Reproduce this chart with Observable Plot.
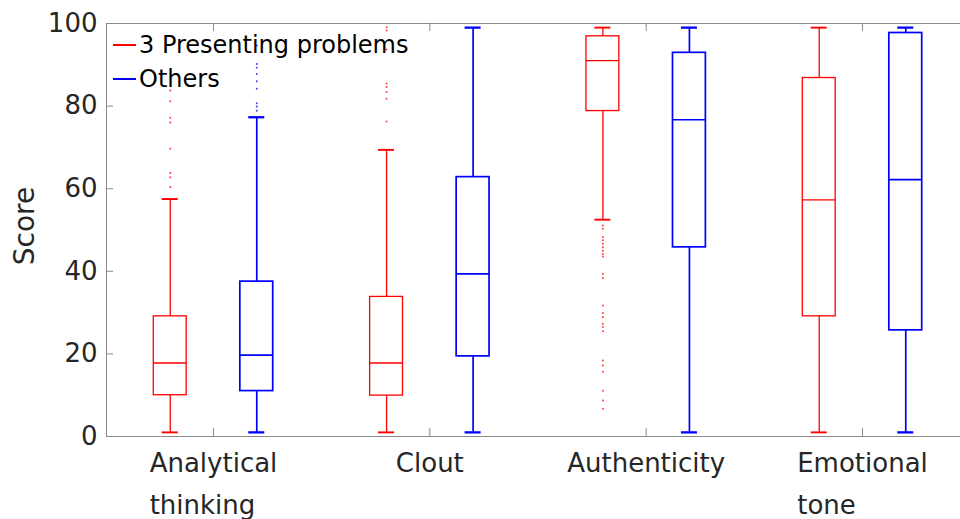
<!DOCTYPE html>
<html>
<head>
<meta charset="utf-8">
<script src="https://cdn.jsdelivr.net/npm/d3@7"></script>
<script src="https://cdn.jsdelivr.net/npm/@observablehq/plot@0.6"></script>
<style>
  body { margin: 0; background: #fff; }
  #chart { position: relative; width: 960px; height: 519px; overflow: hidden; }
  .legend-row { position: absolute; left: 113px; height: 34px; display: flex; align-items: center;
                font: 24px "DejaVu Sans", sans-serif; color: #000; white-space: nowrap; }
  .legend-row .swatch { display: inline-block; width: 23px; height: 1.5px; margin-right: 3px; }
</style>
</head>
<body>
<div id="chart"></div>
<script>
// LIWC summary variables shown along the x axis
const categories = ["Analytical\nthinking", "Clout", "Authenticity", "Emotional\ntone"];
const seriesNames = ["3 Presenting problems", "Others"];
const seriesColors = ["#ff0000", "#0000ff"];
const yTicks = [0, 20, 40, 60, 80, 100];

// Box summaries per category: [lower whisker, Q1, median, Q3, upper whisker]
const presentingStats = [
  [1, 10.0, 17.8, 29.1, 57.5],
  [1, 9.9, 17.8, 33.8, 69.4],
  [52.5, 78.8, 91.0, 96.9, 99],
  [1, 29.1, 57.3, 86.8, 99]
];
const othersStats = [
  [1, 11.0, 19.7, 37.5, 77.3],
  [1, 19.4, 39.4, 62.8, 99],
  [1, 45.8, 76.7, 92.9, 99],
  [1, 25.7, 62.2, 97.7, 99]
];

// Points beyond the whiskers
const presentingOutliers = [
  [83.8, 81.2, 77.2, 76.0, 69.7, 63.8, 62.8, 60.4],
  [99.1, 98.3, 93.7, 85.5, 84.6, 83.4, 81.8, 76.3],
  [51.1, 50.3, 48.3, 47.5, 46.7, 45.8, 45.0, 44.2, 43.6, 39.4, 38.4, 31.7, 29.9, 28.9,
   27.3, 26.5, 25.5, 18.4, 17.2, 15.7, 11.1, 8.7, 6.7],
  []
];
const othersOutliers = [
  [94.7, 90.2, 89.3, 87.8, 86.0, 84.2, 80.7, 79.9, 78.9],
  [],
  [],
  []
];

// Layout of the grouped boxes (in category units on a linear x scale)
const width = 960, height = 519;
const marginLeft = 106, marginTop = 23, marginBottom = 83, marginRight = 0;
const xDomain = [0.5054, 4.453];
const groupOffset = 0.2;     // shift of each series from the category centre
const boxHalf = 0.076;       // half box width
const capHalf = 0.037;       // half whisker-cap width
const font = "DejaVu Sans";
const pxPerX = (width - marginLeft - marginRight) / (xDomain[1] - xDomain[0]);
const pxPerY = (height - marginTop - marginBottom) / 100;

const statSets = [presentingStats, othersStats];
const outlierSets = [presentingOutliers, othersOutliers];
const strokeWidths = [1.3, 1.7];

const marks = [];

// Plot frame (left, bottom, top)
marks.push(Plot.ruleY([0, 100], {stroke: "#8a8a8a", strokeWidth: 1}));
marks.push(Plot.ruleX([xDomain[0]], {stroke: "#8a8a8a", strokeWidth: 1}));

// Inward tick marks on the y axis and at category centres (bottom and top)
marks.push(Plot.ruleY(yTicks, {y: d => d, x1: xDomain[0], x2: xDomain[0] + 7 / pxPerX, stroke: "#8a8a8a"}));
const catPos = categories.map((c, i) => i + 1);
marks.push(Plot.ruleX(catPos, {x: d => d, y1: 0, y2: 8 / pxPerY, stroke: "#8a8a8a"}));
marks.push(Plot.ruleX(catPos, {x: d => d, y1: 100 - 8 / pxPerY, y2: 100, stroke: "#8a8a8a"}));

statSets.forEach((stats, s) => {
  const color = seriesColors[s];
  const sw = strokeWidths[s];
  const boxes = stats.map((v, i) => ({
    pos: i + 1 + (s === 0 ? -groupOffset : groupOffset),
    lo: v[0], q1: v[1], med: v[2], q3: v[3], hi: v[4]
  }));
  // whiskers
  marks.push(Plot.ruleX(boxes, {x: "pos", y1: "lo", y2: "q1", stroke: color, strokeWidth: sw}));
  marks.push(Plot.ruleX(boxes, {x: "pos", y1: "q3", y2: "hi", stroke: color, strokeWidth: sw}));
  // whisker caps
  marks.push(Plot.ruleY(boxes, {y: "lo", x1: d => d.pos - capHalf, x2: d => d.pos + capHalf, stroke: color, strokeWidth: sw + 0.6}));
  marks.push(Plot.ruleY(boxes, {y: "hi", x1: d => d.pos - capHalf, x2: d => d.pos + capHalf, stroke: color, strokeWidth: sw + 0.6}));
  // boxes
  marks.push(Plot.rect(boxes, {x1: d => d.pos - boxHalf, x2: d => d.pos + boxHalf, y1: "q1", y2: "q3",
    fill: "none", stroke: color, strokeWidth: sw}));
  // medians
  marks.push(Plot.ruleY(boxes, {y: "med", x1: d => d.pos - boxHalf, x2: d => d.pos + boxHalf, stroke: color, strokeWidth: sw}));
  // outliers
  const pts = outlierSets[s].flatMap((vals, i) =>
    vals.map(v => ({pos: i + 1 + (s === 0 ? -groupOffset : groupOffset), value: v})));
  marks.push(Plot.dot(pts, {x: "pos", y: "value", r: 1, fill: color, fillOpacity: 0.75, stroke: null}));
});

// y axis tick labels
marks.push(Plot.axisY({ticks: yTicks, tickSize: 0, tickPadding: 9, fontSize: 26, label: null, fill: "#262626"}));

// y axis title
marks.push(Plot.text(["Score"], {frameAnchor: "left", dx: -81, dy: -4, rotate: -90,
  fontSize: 28, fill: "#262626", textAnchor: "middle", lineAnchor: "middle"}));

// Category labels: left-aligned text blocks centred under each category
const ctx = document.createElement("canvas").getContext("2d");
ctx.font = `26px "${font}"`;
categories.forEach((label, i) => {
  const w = Math.max(...label.split("\n").map(l => ctx.measureText(l).width));
  marks.push(Plot.text([label], {x: () => i + 1, frameAnchor: "bottom", textAnchor: "start",
    lineAnchor: "top", dx: -w / 2, dy: 6, lineHeight: 1.6, fontSize: 26, fill: "#262626"}));
});

const chart = Plot.plot({
  width, height, marginLeft, marginRight, marginTop, marginBottom,
  style: {fontFamily: font, background: "#fff", color: "#262626", overflow: "visible"},
  x: {type: "linear", domain: xDomain, axis: null},
  y: {domain: [0, 100], axis: null},
  marks
});
const host = document.getElementById("chart");
host.appendChild(chart);

// Legend drawn over the upper-left corner of the plot
seriesNames.forEach((name, i) => {
  const row = document.createElement("div");
  row.className = "legend-row";
  row.style.top = (28 + 34 * i) + "px";
  const sw = document.createElement("span");
  sw.className = "swatch";
  sw.style.background = seriesColors[i];
  row.appendChild(sw);
  row.appendChild(document.createTextNode(name));
  host.appendChild(row);
});
</script>
</body>
</html>
